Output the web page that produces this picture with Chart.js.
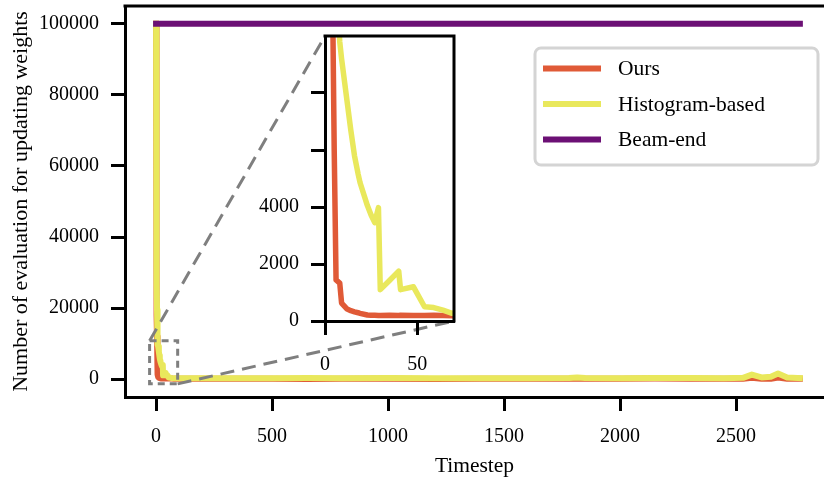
<!DOCTYPE html>
<html>
<head>
<meta charset="utf-8">
<script src="https://cdn.jsdelivr.net/npm/chart.js@4"></script>
<style>
  html, body { margin: 0; padding: 0; background: #fff; overflow: hidden; }
  #wrap { position: relative; width: 824px; height: 477px; }
  #mainChart { position: absolute; left: 0; top: 0; }
  #insetChart { position: absolute; left: 240px; top: 26px; }
</style>
</head>
<body>
<div id="wrap">
  <canvas id="mainChart" width="824" height="477"></canvas>
  <canvas id="insetChart" width="220" height="354"></canvas>
</div>
<script>
const SERIF = "'Liberation Serif', 'Times New Roman', serif";
const RED = '#e05a37';
const YELLOW = '#e9e85c';
const PURPLE = '#6c1075';
const GREY = '#7f7f7f';

// timesteps sampled for the two adaptive methods
const steps = [0, 1, 2, 3, 4, 5, 6, 8, 9, 12,
  14, 16, 18, 19, 23, 25, 27, 29, 30, 35,
  40, 41, 48, 54, 59, 64, 69, 75, 100, 200,
  350, 500, 650, 800, 1000, 1200, 1400, 1600, 1780, 1815,
  1850, 2000, 2150, 2300, 2450, 2530, 2568, 2610, 2650, 2681,
  2720, 2775];
const oursEvals = [100000, 55000, 30000, 18000, 12000, 6000, 1440, 1330, 630, 420,
  360, 320, 290, 270, 210, 200, 200, 190, 190, 200,
  190, 200, 190, 190, 200, 190, 180, 150, 120, 100,
  120, 100, 90, 110, 100, 90, 100, 110, 120, 100,
  100, 160, 180, 120, 100, 100, 400, 120, 100, 450,
  100, 100];
const histEvals = [100000, 62000, 40000, 27000, 19500, 15000, 12300, 9800, 9200, 7700,
  6700, 5800, 5150, 4860, 4050, 3720, 3450, 3980, 1100, 1420,
  1750, 1100, 1200, 500, 470, 380, 270, 240, 250, 260,
  280, 300, 320, 300, 330, 300, 310, 300, 320, 500,
  330, 300, 350, 320, 300, 400, 1300, 500, 700, 1600,
  500, 300];
// beam-end re-evaluates every weight at every step
const beamSteps = [0, 2775];
const beamEndEvals = [100000, 100000];

const xTicks = [0, 500, 1000, 1500, 2000, 2500];
const yTicks = [0, 20000, 40000, 60000, 80000, 100000];
const insetXTicks = [0, 50];
const insetYTicks = [0, 2000, 4000, 6000, 8000];
const insetYLabels = ['0', '2000', '4000', '', ''];

const xRange = [-134, 2879];
const yRange = [-5000, 105000];
const insetXRange = [0, 70];
const insetYRange = [0, 10000];
const zoomBoxX = [-28, 93];
const zoomBoxY = [-1300, 10800];

const pts = (xs, ys) => xs.map((x, i) => ({ x, y: ys[i] }));

function series(width, clip) {
  return [
    { label: 'Ours', data: pts(steps, oursEvals), borderColor: RED, order: 3 },
    { label: 'Histogram-based', data: pts(steps, histEvals), borderColor: YELLOW, order: 2 },
    { label: 'Beam-end', data: pts(beamSteps, beamEndEvals), borderColor: PURPLE, order: 1 }
  ].map(d => Object.assign(d, {
    borderWidth: width, pointRadius: 0, tension: 0,
    borderJoinStyle: 'round', borderCapStyle: 'square', clip: clip
  }));
}

function axis(range, ticks, size, extra) {
  const isX = extra.isX;
  return Object.assign({
    type: 'linear',
    min: range[0],
    max: range[1],
    afterBuildTicks: a => { a.ticks = ticks.map(v => ({ value: v })); },
    afterFit: s => {
      if (isX) { s.height = size; s.paddingLeft = 0; s.paddingRight = 0; }
      else { s.width = size; s.paddingTop = 0; s.paddingBottom = 0; }
    },
    grid: { drawOnChartArea: false, drawTicks: true, tickLength: 14, tickWidth: 3, tickColor: '#000' },
    border: { display: true, color: '#000', width: 3 },
    ticks: {
      font: { family: SERIF, size: 20 }, color: '#000', padding: extra.pad || 12,
      maxRotation: 0, autoSkip: false,
      callback: v => String(v)
    }
  }, extra.opts || {});
}

// spines on the sides Chart.js leaves open
const spines = {
  id: 'spines',
  afterDatasetsDraw(chart, args, opts) {
    const { ctx, chartArea: a } = chart;
    ctx.save();
    ctx.strokeStyle = '#000';
    ctx.lineWidth = 3;
    ctx.beginPath();
    ctx.moveTo(a.left - 1.5, a.top);
    ctx.lineTo(a.right + 1.5, a.top);
    if (opts.right) {
      ctx.moveTo(a.right, a.top);
      ctx.lineTo(a.right, a.bottom + 1.5);
    }
    ctx.stroke();
    ctx.restore();
  }
};

const whiteArea = {
  id: 'whiteArea',
  beforeDraw(chart) {
    const { ctx, chartArea: a } = chart;
    ctx.save();
    ctx.fillStyle = '#fff';
    ctx.fillRect(a.left, a.top, a.right - a.left, a.bottom - a.top);
    ctx.restore();
  }
};

const insetCanvas = document.getElementById('insetChart');
const mainCanvas = document.getElementById('mainChart');

const insetChart = new Chart(insetCanvas, {
  type: 'line',
  data: { datasets: series(5.5, 0) },
  options: {
    responsive: false, animation: false, devicePixelRatio: 1,
    layout: { padding: { top: 10, right: 6, left: 0, bottom: 0 } },
    plugins: { legend: { display: false }, tooltip: { enabled: false }, spines: { right: true } },
    scales: {
      x: axis(insetXRange, insetXTicks, 59, { isX: true, pad: 18 }),
      y: axis(insetYRange, insetYTicks, 85, {
        opts: { ticks: {
          font: { family: SERIF, size: 20 }, color: '#000', padding: 12, autoSkip: false,
          callback: (v, i) => insetYLabels[i]
        } }
      })
    }
  },
  plugins: [whiteArea, spines]
});

// dashed box round the zoomed region, joined to the inset corners
const zoomMarker = {
  id: 'zoomMarker',
  afterDatasetsDraw(chart) {
    const { ctx } = chart;
    const { x, y } = chart.scales;
    const l = x.getPixelForValue(zoomBoxX[0]);
    const r = x.getPixelForValue(zoomBoxX[1]);
    const t = y.getPixelForValue(zoomBoxY[1]);
    const b = y.getPixelForValue(zoomBoxY[0]);
    const ia = insetChart.chartArea;
    const dx = insetCanvas.offsetLeft - mainCanvas.offsetLeft;
    const dy = insetCanvas.offsetTop - mainCanvas.offsetTop;
    ctx.save();
    ctx.strokeStyle = GREY;
    ctx.lineWidth = 3;
    ctx.setLineDash([7, 5]);
    ctx.strokeRect(l, t, r - l, b - t);
    ctx.setLineDash([14, 8]);
    ctx.beginPath();
    ctx.moveTo(l, t);
    ctx.lineTo(ia.left + dx, ia.top + dy);
    ctx.moveTo(r, b);
    ctx.lineTo(ia.right + dx, ia.bottom + dy);
    ctx.stroke();
    ctx.restore();
  }
};

const legendBox = {
  id: 'legendBox',
  afterDatasetsDraw(chart) {
    const { ctx } = chart;
    const bx = 535, by = 48, bw = 283, bh = 117;
    const rows = [68.5, 104, 139.5];
    ctx.save();
    ctx.beginPath();
    ctx.roundRect(bx, by, bw, bh, 6);
    ctx.fillStyle = '#fff';
    ctx.fill();
    ctx.strokeStyle = '#d4d4d4';
    ctx.lineWidth = 3;
    ctx.stroke();
    ctx.font = `21.5px ${SERIF}`;
    ctx.textBaseline = 'middle';
    chart.data.datasets.forEach((d, i) => {
      ctx.strokeStyle = d.borderColor;
      ctx.lineWidth = 6;
      ctx.beginPath();
      ctx.moveTo(543, rows[i]);
      ctx.lineTo(601, rows[i]);
      ctx.stroke();
      ctx.fillStyle = '#000';
      ctx.fillText(d.label, 618, rows[i] + 1);
    });
    ctx.restore();
  }
};

new Chart(mainCanvas, {
  type: 'line',
  data: { datasets: series(6, undefined) },
  options: {
    responsive: false, animation: false, devicePixelRatio: 1,
    layout: { padding: { top: 6, right: 0, left: 0, bottom: 0 } },
    plugins: { legend: { display: false }, tooltip: { enabled: false }, spines: { right: false } },
    scales: {
      x: axis(xRange, xTicks, 80, {
        isX: true, pad: 14,
        opts: { title: {
          display: true, text: 'Timestep', color: '#000',
          font: { family: SERIF, size: 21.5 }, padding: { top: 0, bottom: -2 }
        } }
      }),
      y: axis(yRange, yTicks, 125, {
        opts: { title: {
          display: true, text: 'Number of evaluation for updating weights', color: '#000',
          font: { family: SERIF, size: 22 }, padding: { top: 8, bottom: 0 }
        } }
      })
    }
  },
  plugins: [spines, zoomMarker, legendBox]
});
</script>
</body>
</html>
